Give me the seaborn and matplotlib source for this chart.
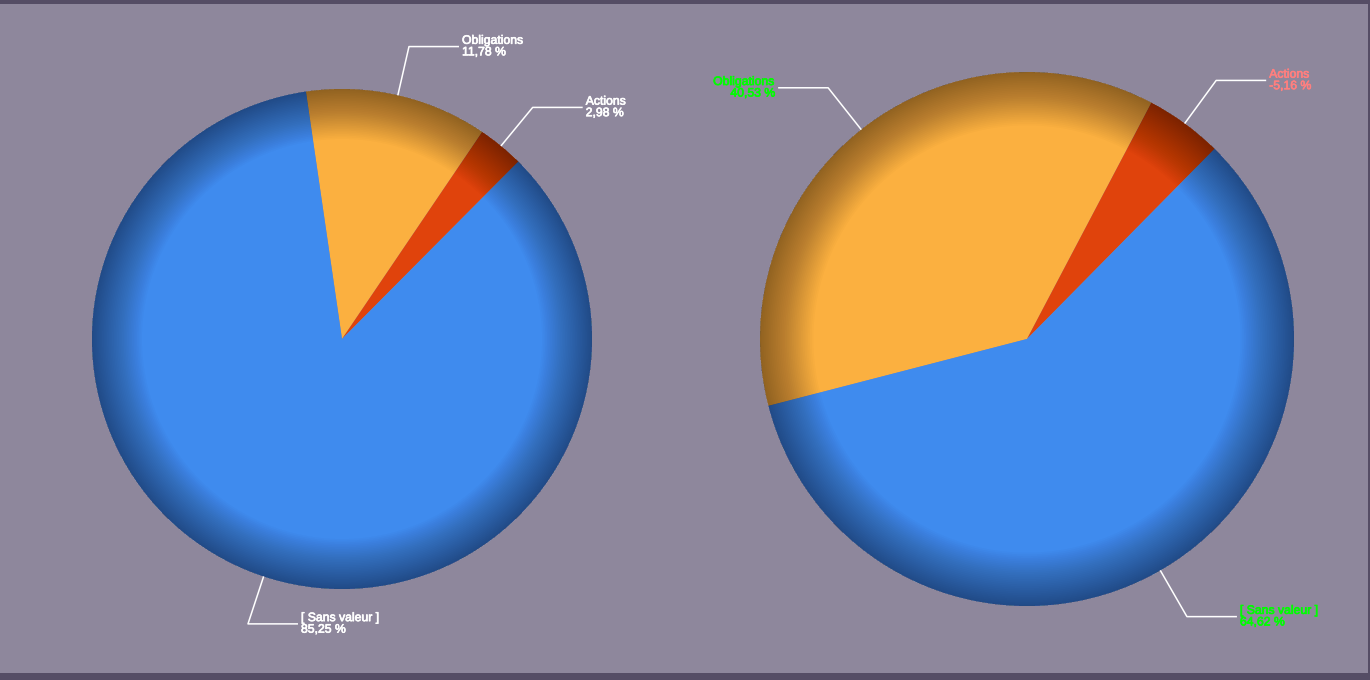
import numpy as np
import matplotlib
matplotlib.use("Agg")
import matplotlib.pyplot as plt
import matplotlib.patheffects as pe
from matplotlib.patches import Wedge
import seaborn as sns

# === Données ===
categories = ["Obligations", "Actions", "[ Sans valeur ]"]
left_values = [11.78, 2.98, 85.25]
right_values = [40.53, -5.16, 64.62]
slice_colors = ["#FBB040", "#E0430C", "#3F8BEE"]
right_label_colors = ["#00FF00", "#FF7F7F", "#00FF00"]

sns.set_theme(style="white")
plt.rcParams['font.family'] = ['Liberation Sans', 'DejaVu Sans']

BG = "#8E879C"
DARK = "#554D65"

fig = plt.figure(figsize=(13.7, 6.8), dpi=100, facecolor=BG)
ax = fig.add_axes([0, 0, 1, 1])
ax.set_facecolor(BG)


def fmt(v):
    return f"{v:.2f}".replace(".", ",") + " %"


def draw_pie(values, center, radius, start, label_colors, directions):
    sizes = [abs(v) for v in values]
    wedges, _ = ax.pie(sizes, colors=slice_colors, startangle=start,
                       counterclock=False, center=center, radius=radius,
                       wedgeprops=dict(linewidth=0, antialiased=True))
    # assombrissement vers le bord (effet bombé)
    n = 30
    for i in range(n):
        r_in = radius * (0.80 + 0.2 * i / n)
        ax.add_patch(Wedge(center, radius, 0, 360, width=radius - r_in,
                           facecolor="black", alpha=0.015, linewidth=0))
    # étiquettes avec traits de rappel
    for w, cat, v, col, d in zip(wedges, categories, values, label_colors, directions):
        mid = np.deg2rad((w.theta1 + w.theta2) / 2)
        x0 = center[0] + radius * np.cos(mid)
        y0 = center[1] + radius * np.sin(mid)
        x1 = center[0] + 1.2 * radius * np.cos(mid)
        y1 = center[1] + 1.2 * radius * np.sin(mid)
        x2 = x1 + d * 50
        ax.plot([x0, x1, x2], [y0, y1, y1], color="white", lw=1.1,
                solid_capstyle="butt", zorder=5)
        ax.text(x2 + d * 3, y1, cat + "\n" + fmt(v), color=col,
                fontsize=8.8, linespacing=0.95,
                ha="left" if d > 0 else "right", va="center", zorder=6,
                path_effects=[pe.withStroke(linewidth=0.5, foreground=col)])


draw_pie(left_values, (342, 341), 250, 98.3, ["white"] * 3, [1, 1, 1])
draw_pie(right_values, (1027, 341), 267, 194.5, right_label_colors, [-1, 1, 1])

ax.axhspan(676, 680, color=DARK, lw=0)
ax.axhspan(0, 7, color=DARK, lw=0)
ax.axvspan(1368, 1370, color=DARK, lw=0)

ax.set_xlim(0, 1370)
ax.set_ylim(0, 680)
ax.set_aspect("auto")
ax.axis("off")

fig.savefig("out.png", dpi=100, facecolor=BG)
